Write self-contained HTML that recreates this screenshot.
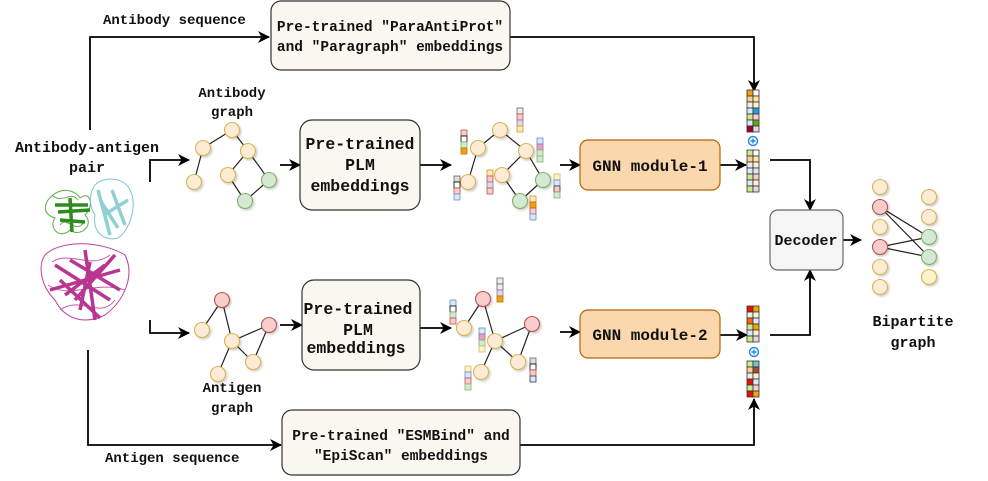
<!DOCTYPE html>
<html><head><meta charset="utf-8"><style>
html,body{margin:0;padding:0;background:#fff;}
svg{display:block;}
text{font-family:"Liberation Mono",monospace;font-weight:bold;fill:#111;}
</style></head><body>
<svg width="988" height="481" viewBox="0 0 988 481" xmlns="http://www.w3.org/2000/svg">
<defs>
<marker id="ar" markerWidth="12" markerHeight="12" refX="11" refY="6" orient="auto" markerUnits="userSpaceOnUse">
<path d="M0,0 L12,6 L0,12 L3.5,6 Z" fill="#000"/></marker>
<filter id="sh" x="-50%" y="-50%" width="200%" height="200%"><feDropShadow dx="1.5" dy="1.5" stdDeviation="1" flood-color="#000" flood-opacity="0.2"/></filter>
</defs>
<g stroke="#000" stroke-width="1.8" fill="none">
<path d="M90,130 V37 H269" marker-end="url(#ar)"/>
<path d="M510,37 H754 V91" marker-end="url(#ar)"/>
<path d="M88,350 V445 H281" marker-end="url(#ar)"/>
<path d="M520,445 H754 V399" marker-end="url(#ar)"/>
<path d="M150,182 V160 H189" marker-end="url(#ar)"/>
<path d="M150,320 V333 H189" marker-end="url(#ar)"/>
<path d="M280,165 H300" marker-end="url(#ar)"/>
<path d="M420,165 H451" marker-end="url(#ar)"/>
<path d="M560,165 H580" marker-end="url(#ar)"/>
<path d="M720,165 H746" marker-end="url(#ar)"/>
<path d="M280,325 H302" marker-end="url(#ar)"/>
<path d="M420,328 H451" marker-end="url(#ar)"/>
<path d="M560,332 H580" marker-end="url(#ar)"/>
<path d="M720,335 H747" marker-end="url(#ar)"/>
<path d="M770,160 H810 V210" marker-end="url(#ar)"/>
<path d="M770,335 H810 V270" marker-end="url(#ar)"/>
<path d="M843,240 H861" marker-end="url(#ar)"/>
</g>
<text x="103" y="24" font-size="14">Antibody sequence</text>
<text x="105" y="462" font-size="14">Antigen sequence</text>
<text x="87" y="152" font-size="15" text-anchor="middle">Antibody-antigen</text>
<text x="87" y="172" font-size="15" text-anchor="middle">pair</text>

<rect x="271" y="1" width="239" height="69" rx="10" fill="#f9f7ef" stroke="#333" stroke-width="1.2"/>
<text x="390" y="31" font-size="14.5" text-anchor="middle">Pre-trained "ParaAntiProt"</text>
<text x="390" y="51" font-size="14.5" text-anchor="middle">and "Paragraph" embeddings</text>
<rect x="282" y="410" width="238" height="65" rx="10" fill="#f9f7ef" stroke="#333" stroke-width="1.2"/>
<text x="401" y="440" font-size="14.5" text-anchor="middle">Pre-trained "ESMBind" and</text>
<text x="401" y="460" font-size="14.5" text-anchor="middle">"EpiScan" embeddings</text>
<rect x="300" y="120" width="120" height="90" rx="12" fill="#f9f7ef" stroke="#333" stroke-width="1.2"/>
<text x="360" y="149" font-size="16.5" text-anchor="middle">Pre-trained</text>
<text x="360" y="170" font-size="16.5" text-anchor="middle">PLM</text>
<text x="360" y="191" font-size="16.5" text-anchor="middle">embeddings</text>
<rect x="302" y="280" width="118" height="90" rx="12" fill="#f9f7ef" stroke="#333" stroke-width="1.2"/>
<text x="358" y="314" font-size="16.5" text-anchor="middle">Pre-trained</text>
<text x="358" y="335" font-size="16.5" text-anchor="middle">PLM</text>
<text x="356" y="353" font-size="16.5" text-anchor="middle">embeddings</text>
<rect x="580" y="140" width="140" height="50" rx="8" fill="#fad7ac" stroke="#b46504" stroke-width="1.2"/>
<text x="650" y="171" font-size="16" text-anchor="middle">GNN module-1</text>
<rect x="580" y="310" width="140" height="48" rx="8" fill="#fad7ac" stroke="#b46504" stroke-width="1.2"/>
<text x="650" y="340" font-size="16" text-anchor="middle">GNN module-2</text>
<rect x="770" y="210" width="73" height="60" rx="8" fill="#f5f5f5" stroke="#666" stroke-width="1.2"/>
<text x="806" y="245" font-size="15" text-anchor="middle">Decoder</text>

<text x="232" y="97" font-size="14" text-anchor="middle">Antibody</text>
<text x="232" y="116" font-size="14" text-anchor="middle">graph</text>
<text x="232" y="392" font-size="14" text-anchor="middle">Antigen</text>
<text x="232" y="412" font-size="14" text-anchor="middle">graph</text>
<text x="913" y="326" font-size="15" text-anchor="middle">Bipartite</text>
<text x="913" y="347" font-size="15" text-anchor="middle">graph</text>

<!-- protein approximation -->
<g fill="none" stroke-width="1">
<path d="M48,200 C60,185 75,190 80,198 C90,190 95,205 85,215 C95,225 80,238 70,230 C60,240 48,228 55,218 C42,214 45,205 48,200" stroke="#5ab04a"/>
<path d="M52,195 C62,205 70,190 78,200 M60,225 C66,215 76,235 84,222" stroke="#5ab04a"/>
<path d="M55,205 H88 M58,212 L90,210 M60,220 L85,222 M70,198 L72,232" stroke="#2e8b1e" stroke-width="3.5"/>
<path d="M95,185 C105,175 125,178 130,190 C138,205 130,230 118,238 C105,242 92,232 95,215 C88,205 90,192 95,185" stroke="#7cc8cc"/>
<path d="M100,200 L118,228 M112,190 L125,225 M104,215 L128,200 M98,190 L110,235" stroke="#8fd0d4" stroke-width="3.5"/>
<path d="M45,255 C60,240 100,240 125,255 C135,275 125,300 105,315 C85,325 65,320 55,300 C40,285 38,265 45,255" stroke="#c040a0"/>
<path d="M52,262 C70,250 90,270 110,255 M48,285 C70,300 95,280 125,290 M60,310 C80,295 100,320 115,300" stroke="#c859aa"/>
<path d="M55,265 L110,300 M60,280 L100,318 M70,260 L120,290 M85,250 L95,320 M50,290 L120,270 M75,300 L115,255 M65,295 L105,265 M80,310 L90,262" stroke="#b83592" stroke-width="3.5"/>
</g>

<g stroke="#222" stroke-width="1.2">
<path d="M232,130 L203,148 M232,130 L248,151 M203,148 L194,182 M248,151 L228,175 M248,151 L269,180 M228,175 L245,201 M269,180 L245,201"/>
<path d="M500,130 L478,148 M500,130 L526,151 M478,148 L468,182 M526,151 L502,175 M526,151 L543,180 M502,175 L520,201 M543,180 L520,201"/>
<path d="M222,300 L202,330 M222,300 L232,341 M232,341 L269,325 M232,341 L253,362 M269,325 L253,362 M232,341 L218,374"/>
<path d="M483,299 L464,328 M483,299 L495,341 M495,341 L532,324 M495,341 L518,362 M532,324 L518,362 M495,341 L481,372"/>
<path d="M880,207 L929,237 M880,207 L929,257 M880,247 L929,237 M880,247 L929,257"/>
</g>
<g stroke-width="1.1" filter="url(#sh)">
<g fill="#fdebd5" stroke="#d6b656">
<circle cx="232" cy="130" r="7.5"/><circle cx="203" cy="148" r="7.5"/><circle cx="248" cy="151" r="7.5"/><circle cx="194" cy="182" r="7.5"/><circle cx="228" cy="175" r="7.5"/>
<circle cx="500" cy="130" r="7.5"/><circle cx="478" cy="148" r="7.5"/><circle cx="526" cy="151" r="7.5"/><circle cx="468" cy="182" r="7.5"/><circle cx="502" cy="175" r="7.5"/>
<circle cx="202" cy="330" r="7.5"/><circle cx="232" cy="341" r="7.5"/><circle cx="253" cy="362" r="7.5"/><circle cx="218" cy="374" r="7.5"/>
<circle cx="464" cy="328" r="7.5"/><circle cx="495" cy="341" r="7.5"/><circle cx="518" cy="362" r="7.5"/><circle cx="481" cy="372" r="7.5"/>
<circle cx="880" cy="187" r="7.5"/><circle cx="880" cy="227" r="7.5"/><circle cx="880" cy="267" r="7.5"/><circle cx="880" cy="287" r="7.5"/>
<circle cx="929" cy="197" r="7.5"/><circle cx="929" cy="217" r="7.5"/><circle cx="929" cy="277" r="7.5" fill="#fff2cc"/>
</g>
<g fill="#d5e8d4" stroke="#82b366">
<circle cx="269" cy="180" r="7.5"/><circle cx="245" cy="201" r="7.5"/><circle cx="543" cy="180" r="7.5"/><circle cx="520" cy="201" r="7.5"/>
<circle cx="929" cy="237" r="7.5"/><circle cx="929" cy="257" r="7.5"/>
</g>
<g fill="#f8cecc" stroke="#b85450">
<circle cx="222" cy="300" r="7.5"/><circle cx="269" cy="325" r="7.5"/><circle cx="483" cy="299" r="7.5"/><circle cx="532" cy="324" r="7.5"/>
<circle cx="880" cy="207" r="7.5"/><circle cx="880" cy="247" r="7.5"/>
</g>
</g>

<g stroke-width="0.8">
<g transform="translate(461,130)"><rect y="0" width="6" height="6" fill="#f8cecc" stroke="#b85450"/><rect y="6" width="6" height="6" fill="#fff" stroke="#000"/><rect y="12" width="6" height="6" fill="#d5e8d4" stroke="#82b366"/><rect y="18" width="6" height="6" fill="#f0a30a" stroke="#bd7000"/></g>
<g transform="translate(454,176)"><rect y="0" width="6" height="6" fill="#ddd" stroke="#666"/><rect y="6" width="6" height="6" fill="#fff" stroke="#000"/><rect y="12" width="6" height="6" fill="#f8cecc" stroke="#b85450"/><rect y="18" width="6" height="6" fill="#dae8fc" stroke="#6c8ebf"/></g>
<g transform="translate(487,170)"><rect y="0" width="6" height="6" fill="#ffe6cc" stroke="#d79b00"/><rect y="6" width="6" height="6" fill="#f8cecc" stroke="#b85450"/><rect y="12" width="6" height="6" fill="#e1d5e7" stroke="#9673a6"/><rect y="18" width="6" height="6" fill="#f8cecc" stroke="#b85450"/></g>
<g transform="translate(517,108)"><rect y="0" width="6" height="6" fill="#eee" stroke="#666"/><rect y="6" width="6" height="6" fill="#f8cecc" stroke="#b85450"/><rect y="12" width="6" height="6" fill="#e1d5e7" stroke="#9673a6"/><rect y="18" width="6" height="6" fill="#ffe6cc" stroke="#d79b00"/></g>
<g transform="translate(537,138)"><rect y="0" width="6" height="6" fill="#dae8fc" stroke="#6c8ebf"/><rect y="6" width="6" height="6" fill="#e6a0c4" stroke="#9673a6"/><rect y="12" width="6" height="6" fill="#d5e8d4" stroke="#82b366"/><rect y="18" width="6" height="6" fill="#d5e8d4" stroke="#82b366"/></g>
<g transform="translate(554,174)"><rect y="0" width="6" height="6" fill="#fff2cc" stroke="#d6b656"/><rect y="6" width="6" height="6" fill="#dae8fc" stroke="#6c8ebf"/><rect y="12" width="6" height="6" fill="#f8cecc" stroke="#333"/><rect y="18" width="6" height="6" fill="#d5e8d4" stroke="#82b366"/></g>
<g transform="translate(530,196)"><rect y="0" width="6" height="6" fill="#ffe6cc" stroke="#d79b00"/><rect y="6" width="6" height="6" fill="#f0a30a" stroke="#bd7000"/><rect y="12" width="6" height="6" fill="#f8cecc" stroke="#b85450"/><rect y="18" width="6" height="6" fill="#dae8fc" stroke="#6c8ebf"/></g>
<g transform="translate(450,300)"><rect y="0" width="6" height="6" fill="#dae8fc" stroke="#6c8ebf"/><rect y="6" width="6" height="6" fill="#fff" stroke="#000"/><rect y="12" width="6" height="6" fill="#d5e8d4" stroke="#82b366"/><rect y="18" width="6" height="6" fill="#f8cecc" stroke="#b85450"/></g>
<g transform="translate(479,328)"><rect y="0" width="6" height="6" fill="#dae8fc" stroke="#6c8ebf"/><rect y="6" width="6" height="6" fill="#e6a0c4" stroke="#9673a6"/><rect y="12" width="6" height="6" fill="#d5e8d4" stroke="#82b366"/><rect y="18" width="6" height="6" fill="#fff2cc" stroke="#d6b656"/></g>
<g transform="translate(497,278)"><rect y="0" width="6" height="6" fill="#eee" stroke="#666"/><rect y="6" width="6" height="6" fill="#eee" stroke="#666"/><rect y="12" width="6" height="6" fill="#e1d5e7" stroke="#9673a6"/><rect y="18" width="6" height="6" fill="#f0a30a" stroke="#bd7000"/></g>
<g transform="translate(465,366)"><rect y="0" width="6" height="6" fill="#fff2cc" stroke="#d6b656"/><rect y="6" width="6" height="6" fill="#dae8fc" stroke="#6c8ebf"/><rect y="12" width="6" height="6" fill="#f8cecc" stroke="#b85450"/><rect y="18" width="6" height="6" fill="#d5e8d4" stroke="#82b366"/></g>
<g transform="translate(530,358)"><rect y="0" width="6" height="6" fill="#ddd" stroke="#666"/><rect y="6" width="6" height="6" fill="#fff" stroke="#000"/><rect y="12" width="6" height="6" fill="#f8cecc" stroke="#b85450"/><rect y="18" width="6" height="6" fill="#dae8fc" stroke="#333"/></g>
</g>

<g stroke="#333" stroke-width="0.8">
<g transform="translate(747,90)">
<rect x="0" y="0" width="6" height="6" fill="#f0a30a"/><rect x="6" y="0" width="6" height="6" fill="#fff"/>
<rect x="0" y="6" width="6" height="6" fill="#ffcc99"/><rect x="6" y="6" width="6" height="6" fill="#ffe599"/>
<rect x="0" y="12" width="6" height="6" fill="#eee"/><rect x="6" y="12" width="6" height="6" fill="#fff2cc"/>
<rect x="0" y="18" width="6" height="6" fill="#dae8fc"/><rect x="6" y="18" width="6" height="6" fill="#1ba1e2"/>
<rect x="0" y="24" width="6" height="6" fill="#cdeb8b"/><rect x="6" y="24" width="6" height="6" fill="#f8cecc"/>
<rect x="0" y="30" width="6" height="6" fill="#dae8fc"/><rect x="6" y="30" width="6" height="6" fill="#60a917"/>
<rect x="0" y="36" width="6" height="6" fill="#a20025"/><rect x="6" y="36" width="6" height="6" fill="#e1d5e7"/>
</g>
<g transform="translate(747,150)">
<rect x="0" y="0" width="6" height="6" fill="#cdeb8b"/><rect x="6" y="0" width="6" height="6" fill="#fff"/>
<rect x="0" y="6" width="6" height="6" fill="#ffcc99"/><rect x="6" y="6" width="6" height="6" fill="#ffe599"/>
<rect x="0" y="12" width="6" height="6" fill="#eee"/><rect x="6" y="12" width="6" height="6" fill="#fff2cc"/>
<rect x="0" y="18" width="6" height="6" fill="#dae8fc"/><rect x="6" y="18" width="6" height="6" fill="#dae8fc"/>
<rect x="0" y="24" width="6" height="6" fill="#cdeb8b"/><rect x="6" y="24" width="6" height="6" fill="#f8cecc"/>
<rect x="0" y="30" width="6" height="6" fill="#dae8fc"/><rect x="6" y="30" width="6" height="6" fill="#fff2cc"/>
<rect x="0" y="36" width="6" height="6" fill="#cdeb8b"/><rect x="6" y="36" width="6" height="6" fill="#e1d5e7"/>
</g>
<g transform="translate(747,306)">
<rect x="0" y="0" width="6" height="6" fill="#e51400"/><rect x="6" y="0" width="6" height="6" fill="#f0a30a"/>
<rect x="0" y="6" width="6" height="6" fill="#eee"/><rect x="6" y="6" width="6" height="6" fill="#fff2cc"/>
<rect x="0" y="12" width="6" height="6" fill="#fa6800"/><rect x="6" y="12" width="6" height="6" fill="#dae8fc"/>
<rect x="0" y="18" width="6" height="6" fill="#cdeb8b"/><rect x="6" y="18" width="6" height="6" fill="#f0a30a"/>
<rect x="0" y="24" width="6" height="6" fill="#dae8fc"/><rect x="6" y="24" width="6" height="6" fill="#fff2cc"/>
<rect x="0" y="30" width="6" height="6" fill="#cdeb8b"/><rect x="6" y="30" width="6" height="6" fill="#e1d5e7"/>
</g>
<g transform="translate(747,361)">
<rect x="0" y="0" width="6" height="6" fill="#cdeb8b"/><rect x="6" y="0" width="6" height="6" fill="#6fc7c7"/>
<rect x="0" y="6" width="6" height="6" fill="#ffcc99"/><rect x="6" y="6" width="6" height="6" fill="#a0522d"/>
<rect x="0" y="12" width="6" height="6" fill="#eee"/><rect x="6" y="12" width="6" height="6" fill="#fff2cc"/>
<rect x="0" y="18" width="6" height="6" fill="#e51400"/><rect x="6" y="18" width="6" height="6" fill="#dae8fc"/>
<rect x="0" y="24" width="6" height="6" fill="#cdeb8b"/><rect x="6" y="24" width="6" height="6" fill="#f8cecc"/>
<rect x="0" y="30" width="6" height="6" fill="#e51400"/><rect x="6" y="30" width="6" height="6" fill="#f0a30a"/>
</g>
</g>
<g stroke="#1e88e5" stroke-width="1.4" fill="#fff">
<circle cx="753" cy="141" r="4.5"/><path d="M750.5,141 H755.5 M753,138.5 V143.5"/>
<circle cx="754" cy="352" r="4.5"/><path d="M751.5,352 H756.5 M754,349.5 V354.5"/>
</g>
</svg>
</body></html>
